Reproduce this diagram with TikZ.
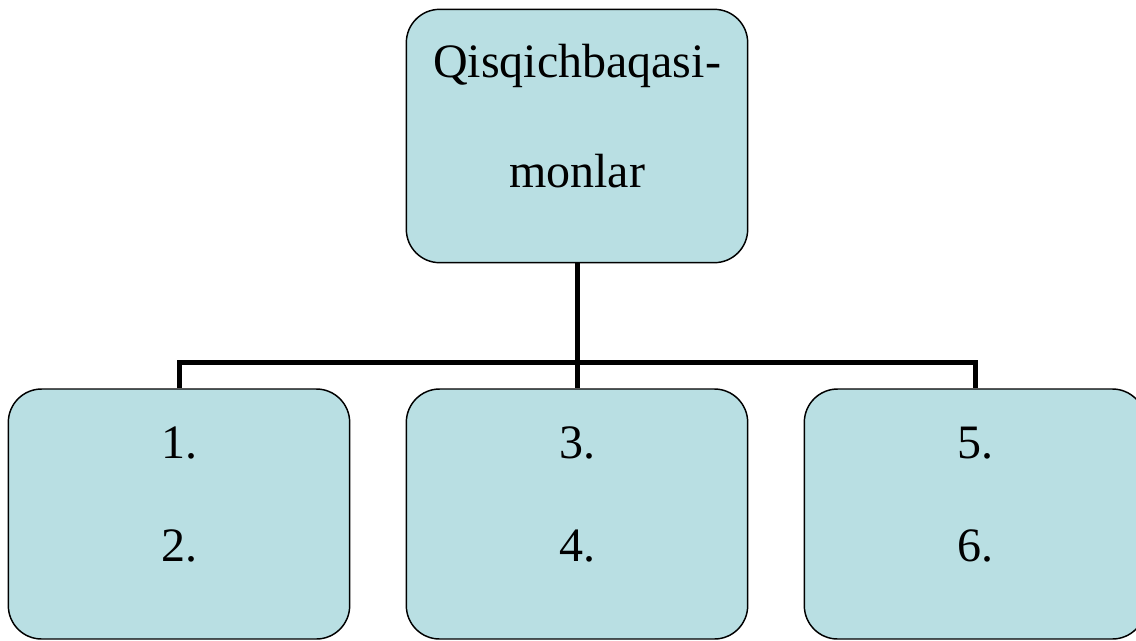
\documentclass[tikz,border=0pt]{standalone}
\usepackage{fontspec}
\setmainfont{Liberation Serif}
\usepackage{xcolor}
\definecolor{boxfill}{HTML}{B9DFE3}
\tikzset{
    box/.style={draw=black, line width=1.1pt, fill=boxfill, rounded corners=25pt,
        minimum width=256pt, align=center, inner sep=0pt, text depth=30pt},
    conn/.style={line width=3.75pt, line join=miter}
}

\begin{document}
\begin{tikzpicture}[x=0.75pt, y=-0.75pt]
    \useasboundingbox (0,0) rectangle (1136,640);
    % top box
    \node[box, minimum height=190pt, font=\fontsize{36}{82.5}\selectfont] (root) at (577,136)
        {Qisqichbaqasi-\\monlar};
    % lower boxes
    \node[box, minimum height=187.5pt, font=\fontsize{36}{77}\selectfont] (grpa) at (179,514) {1.\\2.};
    \node[box, minimum height=187.5pt, font=\fontsize{36}{77}\selectfont] (grpb) at (577,514) {3.\\4.};
    \node[box, minimum height=187.5pt, font=\fontsize{36}{77}\selectfont] (grpc) at (975,514) {5.\\6.};
    % connectors
    \coordinate (bus) at (577,362);
    \draw[conn] (root.south) -- (bus);
    \draw[conn] (grpa.north) |- (bus) -| (grpc.north);
    \draw[conn] (bus) -- (grpb.north);
\end{tikzpicture}
\end{document}
